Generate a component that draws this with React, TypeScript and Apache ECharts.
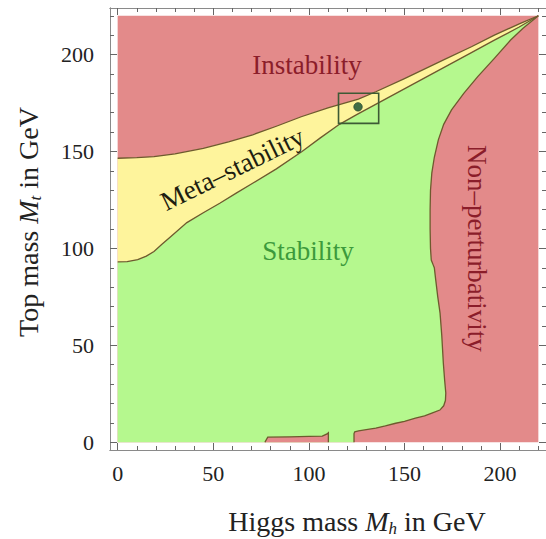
import React, { useEffect, useRef } from 'react';
import * as echarts from 'echarts';

// ---- data (GeV) ----
const majorTicks = [0, 50, 100, 150, 200];
const minorTicks = [0, 10, 20, 30, 40, 50, 60, 70, 80, 90, 100, 110, 120, 130, 140, 150, 160, 170, 180, 190, 200, 210, 220];
const plotRange = [0, 220];

// instability / meta-stability boundary
const upperCurve: [number, number][] = [
  [0, 146.5], [10, 146.8], [19, 147.3], [30, 148.8], [44.8, 151.6], [58, 155], [70.6, 158.6],
  [83, 163], [96, 167.9], [110, 172.5], [125.9, 177], [135, 180.8], [150, 187.6], [171, 197.5],
  [185, 204], [197, 210], [210, 215.8], [220, 220],
];
// meta-stability / stability boundary
const lowerCurve: [number, number][] = [
  [0, 93], [5, 93.2], [10.5, 94.2], [15, 96], [19, 98.4], [23, 102], [27.7, 106], [36.2, 113.3],
  [45, 118.5], [53.4, 123.3], [62, 128.5], [70.6, 133.6], [83, 141], [96.4, 150], [106, 157],
  [116, 164], [125, 169], [140, 177], [155, 185], [170, 193], [185, 201], [197, 207.4],
  [210, 214.2], [220, 220],
];
// stability / non-perturbativity boundary (from the tip down to the axis)
const perturbBoundary: [number, number][] = [
  [220, 220], [212, 213.5], [205.5, 207.5], [197, 198], [188.3, 188.6], [181, 180], [174.6, 171.4],
  [170.5, 164], [167.7, 156], [165.6, 147], [164.3, 139], [163.6, 130], [163.4, 120], [163.4, 110],
  [163.6, 100], [164, 94], [165, 91.5], [165.6, 90], [166.3, 84], [167.4, 75], [168.6, 66.6],
  [169.5, 55], [170.3, 41], [171, 32], [171.6, 25.4], [171.4, 21.5], [170.5, 18.8], [168.5, 16.6],
  [164.3, 15], [160.5, 13.6], [155.7, 12.4], [150, 10.8], [145.4, 9.8], [140, 8.4], [135, 7.3],
  [130, 6.5], [126, 5.9], [124, 5.4], [123.6, 4.5], [123.6, 0],
];
// small unstable patch at the bottom
const bottomPatch: [number, number][] = [
  [77, 0], [78.5, 2.6], [90, 2.8], [100, 3.0], [107, 3.2], [109.5, 4.3], [110.2, 4.9], [110.2, 0],
];
// measured point and its box
const measuredPoint: [number, number] = [125.7, 173];
const measuredBox: [number, number][] = [[115.5, 180], [136.5, 164.5]];

const regionLabels = [
  { text: 'Instability', x: 99, y: 194.5, angle: 0, color: '#8b1d2a' },
  { text: 'Stability', x: 99.5, y: 98.7, angle: 0, color: '#3c9a3c' },
  { text: 'Meta\u2013stability', x: 60, y: 141, angle: 26, color: '#1e1e10' },
  { text: 'Non\u2013perturbativity', x: 188, y: 100, angle: -90, color: '#8b1d2a' },
];

const RED = '#e38a8a';
const GREEN = '#b5f88e';
const YELLOW = '#fef49c';
const EDGE = '#6e5a2e';
const FONT = "'Liberation Serif', 'DejaVu Serif', serif";

const redArea: [number, number][] = [
  [plotRange[0], plotRange[0]], [plotRange[1], plotRange[0]], [plotRange[1], plotRange[1]], [plotRange[0], plotRange[1]],
];
const yellowArea: [number, number][] = [...upperCurve, ...lowerCurve.slice().reverse()];
const greenArea: [number, number][] = [[0, 0], ...lowerCurve, ...perturbBoundary.slice(1)];

function polySeries(pts: [number, number][], fill: string, z: number) {
  return {
    type: 'custom',
    z,
    silent: true,
    data: [[0, 0]],
    renderItem: (_p: any, api: any) => ({
      type: 'polygon',
      shape: { points: pts.map((p) => api.coord(p)) },
      style: { fill, stroke: null },
    }),
  };
}
function lineSeries(pts: [number, number][], z: number) {
  return {
    type: 'custom',
    z,
    silent: true,
    data: [[0, 0]],
    renderItem: (_p: any, api: any) => ({
      type: 'polyline',
      shape: { points: pts.map((p) => api.coord(p)) },
      style: { fill: null, stroke: EDGE, lineWidth: 1.3 },
    }),
  };
}

const frameLine = { show: true, onZero: false, lineStyle: { color: '#8a8a8a', width: 1 } };
const tickLine = { color: '#666', width: 1 };
const labelStyle = { fontSize: 22, fontFamily: FONT, color: '#222' };

function xAxisDef(position: string, values: number[], len: number, labels: boolean) {
  return {
    type: 'value', position, min: -4, max: 224,
    axisLine: frameLine,
    axisTick: { show: true, inside: true, length: len, customValues: values, lineStyle: tickLine },
    axisLabel: labels ? { show: true, customValues: majorTicks, margin: 12, ...labelStyle } : { show: false },
    splitLine: { show: false },
  };
}
function yAxisDef(position: string, values: number[], len: number, labels: boolean) {
  return {
    type: 'value', position, min: -4, max: 224,
    axisLine: frameLine,
    axisTick: { show: true, inside: true, length: len, customValues: values, lineStyle: tickLine },
    axisLabel: labels ? { show: true, customValues: majorTicks, margin: 16, ...labelStyle } : { show: false },
    splitLine: { show: false },
  };
}

export default function App() {
  const ref = useRef<HTMLDivElement>(null);
  useEffect(() => {
    if (!ref.current) return;
    const chart = echarts.init(ref.current, null, { renderer: 'svg' });
    const titleRich = {
      n: { fontSize: 28, fontFamily: FONT, fill: '#222' },
      i: { fontSize: 28, fontFamily: FONT, fontStyle: 'italic', fill: '#222' },
      s: { fontSize: 17, fontFamily: FONT, fontStyle: 'italic', fill: '#222', padding: [15, 0, 0, 0] },
    };
    chart.setOption({
      animation: false,
      backgroundColor: '#ffffff',
      grid: { left: 110, top: 8, width: 442, height: 442, containLabel: false },
      xAxis: [
        xAxisDef('bottom', majorTicks, 7, true),
        xAxisDef('bottom', minorTicks, 4, false),
        xAxisDef('top', majorTicks, 7, false),
        xAxisDef('top', minorTicks, 4, false),
      ],
      yAxis: [
        yAxisDef('left', majorTicks, 7, true),
        yAxisDef('left', minorTicks, 4, false),
        yAxisDef('right', majorTicks, 7, false),
        yAxisDef('right', minorTicks, 4, false),
      ],
      graphic: [
        {
          type: 'text', x: 357, y: 521,
          style: {
            text: '{n|Higgs mass }{i|M}{s|h}{n| in GeV}', rich: titleRich,
            align: 'center', verticalAlign: 'middle', fontSize: 28, fontFamily: FONT,
          },
        },
        {
          type: 'text', x: 28, y: 222, rotation: Math.PI / 2,
          style: {
            text: '{n|Top mass }{i|M}{s|t}{n| in GeV}', rich: titleRich,
            align: 'center', verticalAlign: 'middle', fontSize: 28, fontFamily: FONT,
          },
        },
      ],
      series: [
        polySeries(redArea, RED, 1),
        polySeries(yellowArea, YELLOW, 2),
        polySeries(greenArea, GREEN, 3),
        polySeries(bottomPatch, RED, 4),
        lineSeries(upperCurve, 5),
        lineSeries(lowerCurve, 5),
        lineSeries(perturbBoundary, 5),
        lineSeries(bottomPatch, 5),
        {
          type: 'custom', z: 6, silent: true, data: [[0, 0]],
          renderItem: (_p: any, api: any) => {
            const a = api.coord(measuredBox[0]);
            const b = api.coord(measuredBox[1]);
            const c = api.coord(measuredPoint);
            return {
              type: 'group',
              children: [
                { type: 'rect', shape: { x: a[0], y: a[1], width: b[0] - a[0], height: b[1] - a[1] }, style: { fill: null, stroke: '#3d5a35', lineWidth: 1.6 } },
                { type: 'circle', shape: { cx: c[0], cy: c[1], r: 4.2 }, style: { fill: '#3f6e45', stroke: '#2e4e30', lineWidth: 0.8 } },
              ],
            };
          },
        },
        {
          type: 'custom', z: 7, silent: true,
          data: regionLabels.map((l) => [l.x, l.y]),
          renderItem: (params: any, api: any) => {
            const l = regionLabels[params.dataIndex];
            const p = api.coord([api.value(0), api.value(1)]);
            return {
              type: 'text', x: p[0], y: p[1], rotation: (l.angle * Math.PI) / 180,
              style: { text: l.text, fill: l.color, fontSize: 27, fontFamily: FONT, align: 'center', verticalAlign: 'middle' },
            };
          },
        },
      ],
    });
    return () => chart.dispose();
  }, []);
  return <div ref={ref} style={{ position: 'absolute', left: 0, top: 0, width: 546, height: 539 }} />;
}
